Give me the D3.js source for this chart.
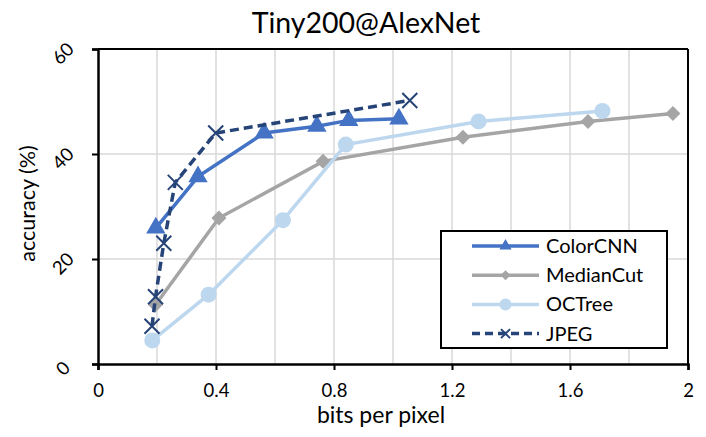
<!DOCTYPE html>
<html lang="en">
<head>
<meta charset="UTF-8">
<title>Tiny200@AlexNet</title>
<script src="https://cdn.jsdelivr.net/npm/d3@7"></script>
<style>
  body { margin: 0; background: #fff; }
  text { font-family: Lato, "Open Sans", sans-serif; fill: #000; }
</style>
</head>
<body>
<script>
// data
var seriesNames = ["ColorCNN", "MedianCut", "OCTree", "JPEG"];
var colorCnnX = [0.196, 0.339, 0.563, 0.742, 0.850, 1.020];
var colorCnnY = [25.9, 35.7, 44.0, 45.3, 46.4, 46.7];
var medianCutX = [0.195, 0.410, 0.763, 1.237, 1.661, 1.949];
var medianCutY = [11.3, 27.8, 38.6, 43.2, 46.2, 47.7];
var ocTreeX = [0.184, 0.375, 0.627, 0.840, 1.290, 1.710];
var ocTreeY = [4.5, 13.2, 27.4, 41.8, 46.2, 48.2];
var jpegX = [0.183, 0.195, 0.223, 0.262, 0.399, 1.057];
var jpegY = [7.2, 12.8, 23.0, 34.6, 44.0, 50.2];
var xTicks = [0, 0.4, 0.8, 1.2, 1.6, 2];
var yTicks = [0, 20, 40, 60];

var width = 706, height = 437;
var plotL = 98, plotR = 688, plotT = 49, plotB = 364;

var svg = d3.select("body").append("svg")
    .attr("width", width)
    .attr("height", height);

var x = d3.scaleLinear().domain([0, 2]).range([plotL, plotR]);
var y = d3.scaleLinear().domain([0, 60]).range([plotB, plotT]);

// grid
svg.append("g").selectAll("line")
    .data(d3.range(0.2, 2.0001, 0.2))
    .enter().append("line")
    .attr("x1", d => x(d)).attr("x2", d => x(d))
    .attr("y1", plotT).attr("y2", plotB)
    .attr("stroke", "#d9d9d9").attr("stroke-width", 1.5);
svg.append("g").selectAll("line")
    .data([20, 40])
    .enter().append("line")
    .attr("x1", plotL).attr("x2", plotR)
    .attr("y1", d => y(d)).attr("y2", d => y(d))
    .attr("stroke", "#d9d9d9").attr("stroke-width", 1.5);

// frame
svg.append("line").attr("x1", plotL).attr("x2", plotR).attr("y1", plotT).attr("y2", plotT)
    .attr("stroke", "#000").attr("stroke-width", 2);
svg.append("line").attr("x1", plotR).attr("x2", plotR).attr("y1", plotT).attr("y2", plotB)
    .attr("stroke", "#000").attr("stroke-width", 2);

// axes
var xAxis = svg.append("g")
    .attr("transform", "translate(0," + plotB + ")")
    .call(d3.axisBottom(x).tickValues(xTicks).tickSize(6).tickFormat(d3.format("")));
xAxis.select(".domain").attr("stroke-width", 2.5);
xAxis.selectAll(".tick line").attr("stroke-width", 2);
xAxis.selectAll("text").attr("font-size", 18.5).attr("dy", "1.28em");

var yAxis = svg.append("g")
    .attr("transform", "translate(" + plotL + ",0)")
    .call(d3.axisLeft(y).tickValues(yTicks).tickSize(6));
yAxis.select(".domain").attr("stroke-width", 2.5);
yAxis.selectAll(".tick line").attr("stroke-width", 2);
yAxis.selectAll("text").remove();
yAxis.selectAll(".tick").append("text")
    .attr("transform", "translate(-35,4) rotate(-45)")
    .attr("text-anchor", "middle")
    .attr("dy", "0.35em")
    .attr("font-size", 18.5)
    .text(d => d);

// titles
svg.append("text").attr("x", 366).attr("y", 33).attr("text-anchor", "middle")
    .attr("font-size", 28.5).text("Tiny200@AlexNet");
svg.append("text").attr("x", x(1) - 12).attr("y", 423).attr("text-anchor", "middle")
    .attr("font-size", 23).text("bits per pixel");
svg.append("text").attr("transform", "translate(35," + (y(30) - 3) + ") rotate(-90)")
    .attr("text-anchor", "middle").attr("font-size", 21.5).text("accuracy (%)");

// series
var series = [
  { name: seriesNames[0], xs: colorCnnX, ys: colorCnnY, color: "#4472c4", marker: "triangle", dash: null },
  { name: seriesNames[1], xs: medianCutX, ys: medianCutY, color: "#a5a5a5", marker: "diamond", dash: null },
  { name: seriesNames[2], xs: ocTreeX, ys: ocTreeY, color: "#bdd7ee", marker: "circle", dash: null },
  { name: seriesNames[3], xs: jpegX, ys: jpegY, color: "#264478", marker: "cross", dash: "9,5" }
];

function drawMarker(g, type, color, s) {
  if (type === "triangle") {
    g.append("path").attr("d", d3.symbol(d3.symbolTriangle, s * s * 0.45)())
      .attr("fill", color);
  } else if (type === "diamond") {
    g.append("path").attr("d", "M0," + (-s / 2) + "L" + (s / 2) + ",0L0," + (s / 2) + "L" + (-s / 2) + ",0Z")
      .attr("fill", color);
  } else if (type === "circle") {
    g.append("circle").attr("r", s / 2).attr("fill", color);
  } else {
    var h = s / 2;
    g.append("path").attr("d", "M" + (-h) + "," + (-h) + "L" + h + "," + h + "M" + h + "," + (-h) + "L" + (-h) + "," + h)
      .attr("stroke", color).attr("stroke-width", 2).attr("fill", "none");
  }
}

var markerSize = { triangle: 19, diamond: 15, circle: 16, cross: 15 };
var line = d3.line().x(d => x(d[0])).y(d => y(d[1]));

series.forEach(function (s) {
  var pts = s.xs.map((v, i) => [v, s.ys[i]]);
  svg.append("path").datum(pts)
    .attr("d", line)
    .attr("fill", "none")
    .attr("stroke", s.color)
    .attr("stroke-width", 3.5)
    .attr("stroke-dasharray", s.dash);
  pts.forEach(function (p) {
    var g = svg.append("g").attr("transform", "translate(" + x(p[0]) + "," + y(p[1]) + ")");
    drawMarker(g, s.marker, s.color, markerSize[s.marker]);
  });
});

// legend
var legend = svg.append("g");
legend.append("rect").attr("x", 441).attr("y", 231).attr("width", 226).attr("height", 117)
  .attr("fill", "#fff").attr("stroke", "#000").attr("stroke-width", 2);
var legendSize = { triangle: 12, diamond: 10, circle: 12, cross: 9 };
series.forEach(function (s, i) {
  var ly = 246 + i * 29.2;
  legend.append("line").attr("x1", 472).attr("x2", 539).attr("y1", ly).attr("y2", ly)
    .attr("stroke", s.color).attr("stroke-width", 3.5).attr("stroke-dasharray", s.dash ? "8,5" : null);
  var g = legend.append("g").attr("transform", "translate(505.5," + ly + ")");
  drawMarker(g, s.marker, s.color, legendSize[s.marker]);
  legend.append("text").attr("x", 546).attr("y", ly).attr("dy", "0.35em")
    .attr("font-size", 20).text(s.name);
});
</script>
</body>
</html>
